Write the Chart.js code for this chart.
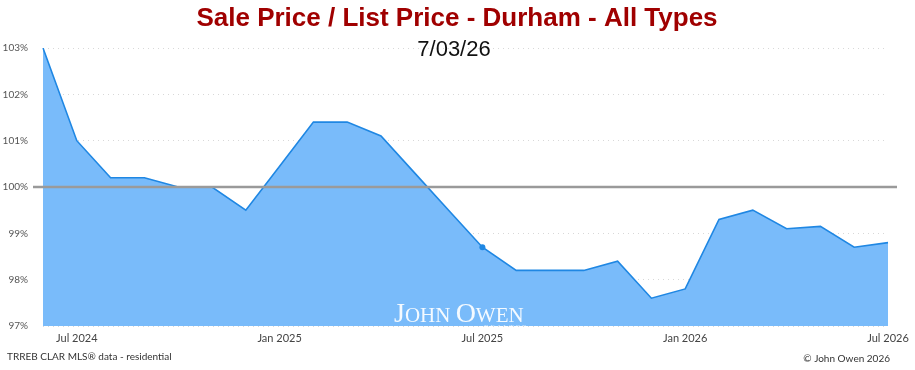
<!DOCTYPE html>
<html>
<head>
<meta charset="utf-8">
<script src="https://cdn.jsdelivr.net/npm/chart.js@4"></script>
<style>
  html, body { margin: 0; padding: 0; background: #fff; }
  #wrap { width: 915px; height: 370px; position: relative; }
</style>
</head>
<body>
<div id="wrap"><canvas id="sale-list-chart" width="915" height="370"></canvas></div>
<script>
const months = [
  'Jun 2024', 'Jul 2024', 'Aug 2024', 'Sep 2024', 'Oct 2024', 'Nov 2024', 'Dec 2024',
  'Jan 2025', 'Feb 2025', 'Mar 2025', 'Apr 2025', 'May 2025', 'Jun 2025', 'Jul 2025',
  'Aug 2025', 'Sep 2025', 'Oct 2025', 'Nov 2025', 'Dec 2025',
  'Jan 2026', 'Feb 2026', 'Mar 2026', 'Apr 2026', 'May 2026', 'Jun 2026', 'Jul 2026'
];
const saleToList = [
  103.0, 101.0, 100.2, 100.2, 100.0, 100.0, 99.5,
  100.45, 101.4, 101.4, 101.1, 100.3, 99.5, 98.7,
  98.2, 98.2, 98.2, 98.4, 97.6,
  97.8, 99.3, 99.5, 99.1, 99.15, 98.7, 98.8
];
const shownTicks = ['Jul 2024', 'Jan 2025', 'Jul 2025', 'Jan 2026', 'Jul 2026'];
const yTicks = [97, 98, 99, 100, 101, 102, 103];
const referenceLevel = 100;
const markedMonth = 'Jul 2025';

const titleText = 'Sale Price / List Price - Durham - All Types';
const dateText = '7/03/26';
const sourceText = 'TRREB CLAR MLS\u00AE data - residential';
const creditText = '\u00A9 John Owen 2026';

const markedIndex = months.indexOf(markedMonth);

// titles, footers, watermark and the 100% line
const decorations = {
  id: 'decorations',
  afterDatasetsDraw(chart) {
    const { ctx, chartArea, scales } = chart;

    // watermark
    ctx.save();
    ctx.beginPath();
    ctx.rect(chartArea.left, chartArea.top, chartArea.right - chartArea.left, chartArea.bottom - chartArea.top);
    ctx.clip();
    ctx.fillStyle = 'rgba(255,255,255,0.92)';
    ctx.textBaseline = 'alphabetic';
    const parts = [['J', 28], ['OHN ', 21], ['O', 28], ['WEN', 21]];
    let x = 394;
    parts.forEach(([t, size]) => {
      ctx.font = size + 'px "Liberation Serif"';
      ctx.fillText(t, x, 322);
      x += ctx.measureText(t).width;
    });
    ctx.font = '7px "Liberation Serif"';
    ctx.fillStyle = 'rgba(255,255,255,0.7)';
    ctx.fillText('R E A L T O R', 484, 329);
    ctx.restore();

    // reference line
    const y = scales.y.getPixelForValue(referenceLevel);
    ctx.save();
    ctx.strokeStyle = '#9a9a9a';
    ctx.lineWidth = 2.5;
    ctx.beginPath();
    ctx.moveTo(chartArea.left - 10, y);
    ctx.lineTo(chartArea.right + 9, y);
    ctx.stroke();
    ctx.restore();
  },
  afterDraw(chart) {
    const { ctx } = chart;
    ctx.save();
    ctx.textAlign = 'center';
    ctx.textBaseline = 'middle';
    ctx.fillStyle = '#a00000';
    ctx.font = 'bold 26px "Liberation Sans", Arial, sans-serif';
    ctx.fillText(titleText, 457, 19);
    ctx.fillStyle = '#111';
    ctx.font = '22px "Liberation Sans", Arial, sans-serif';
    ctx.fillText(dateText, 454, 50);

    ctx.fillStyle = '#333';
    ctx.font = '10px Lato, sans-serif';
    ctx.textAlign = 'left';
    ctx.fillText(sourceText, 7, 357);
    ctx.textAlign = 'right';
    ctx.fillText(creditText, 890, 359);
    ctx.restore();
  }
};

const ctx = document.getElementById('sale-list-chart').getContext('2d');

new Chart(ctx, {
  type: 'line',
  data: {
    labels: months,
    datasets: [{
      label: 'Sale / List',
      data: saleToList,
      fill: 'start',
      borderColor: '#1f87e3',
      backgroundColor: '#79bbfa',
      borderWidth: 1.6,
      tension: 0,
      pointRadius: months.map((m, i) => i === markedIndex ? 3 : 0),
      pointBackgroundColor: '#1f87e3',
      pointBorderWidth: 0
    }]
  },
  options: {
    responsive: false,
    animation: false,
    layout: {
      padding: { top: 48, left: 0, right: 27, bottom: 0 }
    },
    scales: {
      x: {
        afterFit: s => { s.height = 44; },
        grid: { display: false, drawTicks: false },
        border: { display: false },
        ticks: {
          autoSkip: false,
          maxRotation: 0,
          padding: 6,
          color: '#444',
          font: { family: 'Lato', size: 11 },
          callback: function (value) {
            const label = this.getLabelForValue(value);
            return shownTicks.includes(label) ? label : '';
          }
        }
      },
      y: {
        min: yTicks[0],
        max: yTicks[yTicks.length - 1],
        afterFit: s => { s.width = 43; },
        afterBuildTicks: s => { s.ticks = yTicks.map(v => ({ value: v })); },
        border: { display: false, dash: [1, 4] },
        grid: {
          color: '#d8d8d8',
          lineWidth: 1,
          drawTicks: false
        },
        ticks: {
          autoSkip: false,
          padding: 15,
          color: '#555',
          font: { family: 'Lato', size: 10 },
          callback: v => v + '%'
        }
      }
    },
    plugins: {
      legend: { display: false },
      title: { display: false },
      tooltip: { enabled: false }
    }
  },
  plugins: [decorations]
});
</script>
</body>
</html>
